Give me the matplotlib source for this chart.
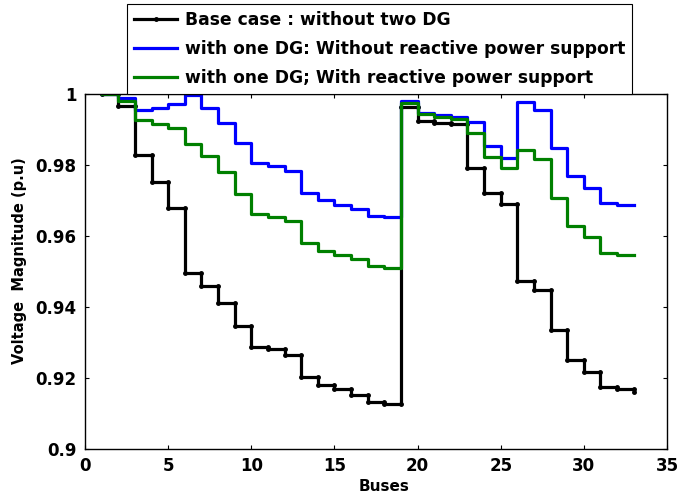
import numpy as np
import matplotlib
matplotlib.use('Agg')
import matplotlib.pyplot as plt

# Bus voltage profile of the 33-bus feeder
buses = np.arange(1, 34)

v_base = [1.0, 0.9966, 0.9827, 0.9753, 0.9678, 0.9495, 0.9459, 0.9410, 0.9346,
          0.9288, 0.9281, 0.9266, 0.9204, 0.9181, 0.9168, 0.9152, 0.9133, 0.9127,
          0.9964, 0.9925, 0.9919, 0.9915, 0.9791, 0.9722, 0.9690, 0.9473, 0.9448,
          0.9335, 0.9251, 0.9216, 0.9176, 0.9168, 0.9161]

v_dg_no_q = [1.0, 0.9988, 0.9955, 0.9960, 0.9972, 0.9997, 0.9960, 0.9919, 0.9861,
             0.9805, 0.9797, 0.9784, 0.9722, 0.9701, 0.9687, 0.9675, 0.9657, 0.9653,
             0.9981, 0.9947, 0.9941, 0.9934, 0.9920, 0.9854, 0.9821, 0.9977, 0.9955,
             0.9847, 0.9769, 0.9734, 0.9694, 0.9686, 0.9686]

v_dg_q = [1.0, 0.9981, 0.9927, 0.9915, 0.9903, 0.9858, 0.9825, 0.9781, 0.9717,
          0.9661, 0.9654, 0.9643, 0.9581, 0.9559, 0.9546, 0.9534, 0.9515, 0.9509,
          0.9976, 0.9943, 0.9936, 0.9929, 0.9891, 0.9823, 0.9791, 0.9842, 0.9816,
          0.9708, 0.9628, 0.9596, 0.9553, 0.9546, 0.9546]

labels = ['Base case : without two DG',
          'with one DG: Without reactive power support',
          'with one DG; With reactive power support']


def stairs(x, y):
    # vertices of a MATLAB-style stairs plot (markers sit on every corner)
    x = np.asarray(x, float)
    y = np.asarray(y, float)
    return np.repeat(x, 2)[1:], np.repeat(y, 2)[:-1]


plt.rcParams['font.family'] = 'DejaVu Sans'
plt.rcParams['font.weight'] = 'bold'

fig = plt.figure(figsize=(6.81, 4.96), dpi=100)
ax = fig.add_axes([0.1248, 0.0948, 0.8546, 0.7157])

sx, sy = stairs(buses, v_base)
ax.plot(sx, sy, color='black', lw=2.3, marker='.', ms=5, label=labels[0])
sx, sy = stairs(buses, v_dg_no_q)
ax.plot(sx, sy, color='#0000ff', lw=2.3, label=labels[1])
sx, sy = stairs(buses, v_dg_q)
ax.plot(sx, sy, color='#008000', lw=2.3, label=labels[2])

ax.set_xlim(0, 35)
ax.set_ylim(0.9, 1.0)
ax.set_xticks(range(0, 36, 5))
ax.set_yticks([0.9, 0.92, 0.94, 0.96, 0.98, 1.0])
ax.set_yticklabels(['0.9', '0.92', '0.94', '0.96', '0.98', '1'])
ax.tick_params(direction='in', length=3, width=0.8, top=True, right=True,
               labelsize=12, pad=6)
for lab in ax.get_xticklabels() + ax.get_yticklabels():
    lab.set_fontweight('bold')
for sp in ax.spines.values():
    sp.set_linewidth(1.0)

ax.set_xlabel('Buses', fontsize=11, fontweight='bold')
ax.xaxis.set_label_coords(0.514, -0.085)
ax.set_ylabel('Voltage  Magnitude (p.u)', fontsize=10.5, fontweight='bold')
ax.yaxis.set_label_coords(-0.1, 0.53)

leg = fig.legend(loc='upper left', bbox_to_anchor=(127 / 681, 1 - 4 / 496),
                 borderaxespad=0, prop={'weight': 'bold', 'size': 12.3},
                 fancybox=False, edgecolor='black', framealpha=1,
                 handlelength=2.55, handletextpad=0.45, labelspacing=0.66,
                 borderpad=0.4, numpoints=1)
leg.get_frame().set_linewidth(0.8)

fig.savefig('out.png', dpi=100)
